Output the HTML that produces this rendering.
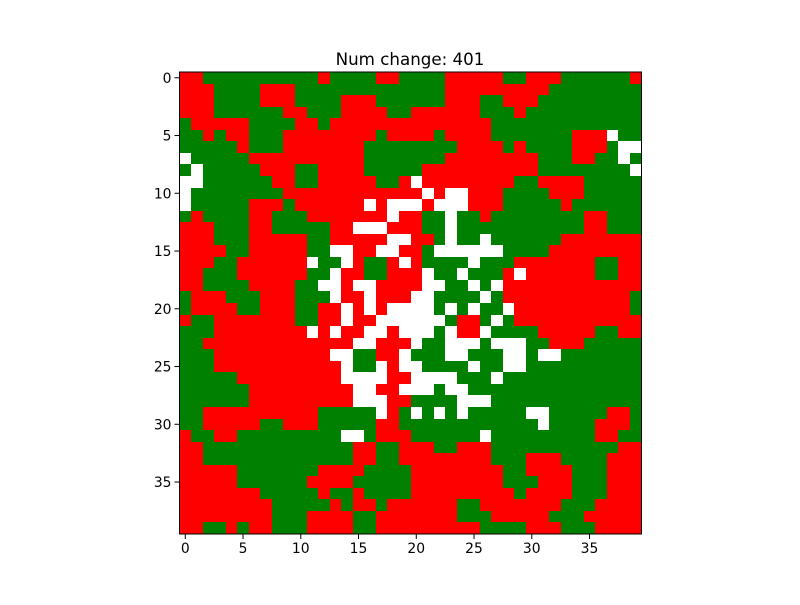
<!DOCTYPE html>
<html><head><meta charset="utf-8"><style>
html,body{margin:0;padding:0;background:#fff;}
svg text{font-family:"DejaVu Sans","Liberation Sans",sans-serif;}
</style></head><body>
<svg id="chart" width="800" height="600" xmlns="http://www.w3.org/2000/svg">
<rect width="800" height="600" fill="#fff"/>
<text x="410" y="65" text-anchor="middle" font-size="16.7" fill="#000">Num change: 401</text>
<g id="cells" shape-rendering="crispEdges"></g>
<g id="axes"></g>
</svg>
<script>
const gridRows = [
"RRGGGGGGGGGGRGGGGRRGGGGRRRRRGGRRRGGGGGGR",
"RRRGGGGRRRGGGGGGGGGGGGGRRRRRRRRRGGGGGGGG",
"RRRGGGGRRRGGGGRRRGGGGGGRRRGGRRRGGGGGGGGG",
"RRRGGGGGGRRGGGRRRRGGRRRRRRGGGRGGGGGGGGGG",
"GRRRRRGGGGRRGRRRRRRRRRRRRRRGGGGGGGGGGGGG",
"GGRGRRGGGRRRRRRRRGRRRRGRRRRGGGGGGGRRRWGG",
"GGGGGRGGGRRRRRRRGGGGGGGGRRRRGRGGGGRRRGWW",
"WGGGGGRRRRRRRRRRGGGGGGGRRRRRRRRGGGRRGGWG",
"GWGGGGGRRRGGRRRRGGGGGRRRRRRRRRRGGGGGGGGW",
"WWGGGGGGRRGGRRRRRGGRWRRRRRRRRGGRRRRGGGGG",
"WGGGGGGGGRRRRRRRRRRRRWRWWRRRGGGGRRRGGGGG",
"WGGGGGRRRGRRRRRRWRWWWRWWWRRRGGGGGRGGGGGG",
"GRGGGGRRGGGRRRRRRRWRRGGWGGRGGGGGGGGRRGGG",
"RRRGGGRRGGGGGRRWWWRRRGGWGGGGGGGGGGGRRGGG",
"RRRGGGRRRRRGGRRRRRWWRRGWGGWGGGGGGRRRRRRR",
"RRRRGGRRRRRGGWWRRWWRRGWWWWWWGGGGRRRRRRRR",
"RRRGGRRRRRRWGGWRGGRWRGGGGWGGGRRRRRRRGGRR",
"RRGGGRRRRRRGGWRRGGRRRWGGWGGGRWRRRRRRGGRR",
"RRGGGGRRRRGGWWRWWRRRRWWGGWGWRRRRRRRRRRRR",
"GRRRGGGRRRGGGWRRWRRRWWGGGGWGRRRRRRRRRRRG",
"GRRRRGGRRRGGRRWRWRWWWWGWGWGGWRRRRRRRRRRG",
"RGGRRRRRRRGGRRWRRWWWWWWGRRGWGRRRRRRRRRRR",
"GGGRRRRRRRRWRWRRWWRWWWGWRRWGGGGRRRRRGGRR",
"GGRRRRRRRRRRRRRWWRRRWGGWWWGWWWGGRRRGGGGG",
"GGGRRRRRRRRRRWWGGRRWGGGWWGGGWWGWWGGGGGGG",
"GGGRRRRRRRRRRRWGGWRWWGGGGWGGWWGGGGGGGGGG",
"GGGGGRRRRRRRRRWWWWRRWWWWGGGWGGGGGGGGGGGG",
"GGGGGGRRRRRRRRRWWRRWWWGWWGGGGGGGGGGGGGGG",
"GGGGGGRRRRRRRRRWWWRRGGGGWWWGGGGGGGGGGGGG",
"GGRRRRRRRRRRGGGGGWRGWGWGWGGGGGWWGGGGGRRG",
"GGRRRRRGGRRRGGGGGRRGGGGGGGGGGGGWGGGGRRRG",
"RGGRRGGGGGGGGGWWGRRRGGGGGGWGGGGGGGGGRRGG",
"RRGGGGGGGGGGGGGRRGGRRRGGRRRGGGGGGGGGGGRR",
"RRGGGGGGGGGGGGGRRGGRRRRRRRRGGGRRRGGGGRRR",
"RRRRRGGGGGGGRRRRGGGGRRRRRRRRGGRRRRGGGRRR",
"RRRRRGGGGGGRRRRGGGGGRRRRRRRRGGGRRRGGGRRR",
"RRRRRRRGGGGGRGGRGGGGRRRRRRRRRGRRRRGGGRRR",
"RRRRRRRRGGGGGRGRRGRRRRRRGGRRRRRRRGGGRRRR",
"RRRRRRRRGGGRRRRGGRRRRRRRGGGRRRRRGGGRRRRR",
"RRGGRGRRGGGRRRRGGRRRRRRRRRGGGGRRRGGGRRRR"
];
const xTickValues = [0,5,10,15,20,25,30,35];
const yTickValues = [0,5,10,15,20,25,30,35];
const colorMap = {R:"#ff0000", G:"#008000", W:"#ffffff"};

const NS="http://www.w3.org/2000/svg";
const nRows=gridRows.length, nCols=40;
const axLeft=179.5, axTop=72, axW=462, axH=462;
const cw=axW/nCols, ch=axH/nRows;
function xPos(c){return axLeft + c*cw;}
function yPos(r){return axTop + r*ch;}
function mk(tag,attrs){const e=document.createElementNS(NS,tag);for(const k in attrs)e.setAttribute(k,attrs[k]);return e;}
const cellsG=document.getElementById('cells');
gridRows.forEach((row,r)=>{
  for(let c=0;c<nCols;c++){
    const v=row[c]||'W';
    const x0=Math.round(xPos(c)), x1=Math.round(xPos(c+1));
    const y0=Math.round(yPos(r)), y1=Math.round(yPos(r+1));
    const rect=mk('rect',{x:x0,y:y0,width:x1-x0,height:y1-y0,fill:colorMap[v]});
    
    
    cellsG.appendChild(rect);
  }
});
const axesG=document.getElementById('axes');
const frame=mk('rect',{x:axLeft,y:axTop,width:axW,height:axH,fill:'none',stroke:'#000','stroke-width':1});


axesG.appendChild(frame);
xTickValues.forEach(v=>{
  const x=xPos(v+0.5);
  const t=mk('line',{x1:x,y1:axTop+axH,x2:x,y2:axTop+axH+5,stroke:'#000','stroke-width':1});
  
  
  axesG.appendChild(t);
  const l=mk('text',{x:x,y:axTop+axH+19,'text-anchor':'middle','font-size':13.9,fill:'#000'});
  l.textContent=v;
  
  
  axesG.appendChild(l);
});
yTickValues.forEach(v=>{
  const y=yPos(v+0.5);
  const t=mk('line',{x1:axLeft-5,y1:y,x2:axLeft,y2:y,stroke:'#000','stroke-width':1});
  
  
  axesG.appendChild(t);
  const l=mk('text',{x:axLeft-8,y:y+5,'text-anchor':'end','font-size':13.9,fill:'#000'});
  l.textContent=v;
  
  
  axesG.appendChild(l);
});
</script>
</body></html>
